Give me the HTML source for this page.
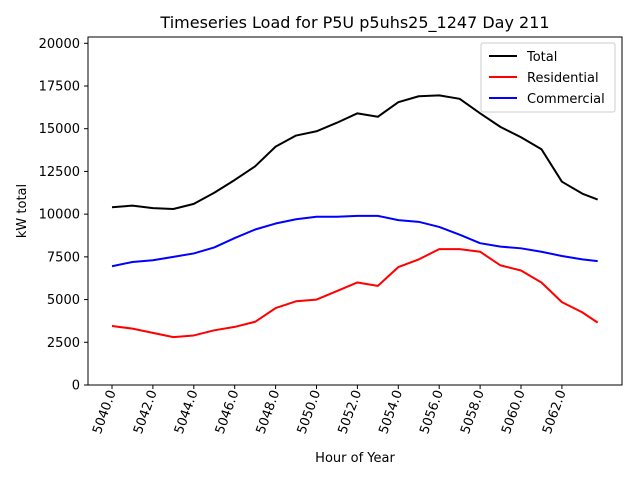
<!DOCTYPE html>
<html><head><meta charset="utf-8"><style>
body{margin:0;background:#fff;font-family:"Liberation Sans","DejaVu Sans",sans-serif}
</style></head><body>
<svg id="chart" width="640" height="480" font-family="DejaVu Sans, Liberation Sans, sans-serif">
<rect width="640" height="480" fill="#fff"/>
<text x="355" y="28" text-anchor="middle" font-size="16">Timeseries Load for P5U p5uhs25_1247  Day 211</text>
<text x="355" y="462" text-anchor="middle" font-size="13">Hour of Year</text>
<text transform="translate(26,211) rotate(-90)" text-anchor="middle" font-size="13">kW total</text>
<g id="grid"></g>
<g id="series"></g>
<rect x="88" y="37" width="534" height="348" fill="none" stroke="#000" stroke-width="1"/>
<g>
<rect x="481" y="43" width="134" height="69" fill="#fff" stroke="#ccc" rx="2"/>
<line x1="489" y1="56" x2="517" y2="56" stroke="#000" stroke-width="2"/>
<text x="527" y="61" font-size="13">Total</text>
<line x1="489" y1="77" x2="517" y2="77" stroke="red" stroke-width="2"/>
<text x="527" y="82" font-size="13">Residential</text>
<line x1="489" y1="98" x2="517" y2="98" stroke="blue" stroke-width="2"/>
<text x="527" y="103" font-size="13">Commercial</text>
</g>
</svg>
<script>
const hours=[5040,5041,5042,5043,5044,5045,5046,5047,5048,5049,5050,5051,5052,5053,5054,5055,5056,5057,5058,5059,5060,5061,5062,5063,5063.75];
const residential=[3450,3300,3050,2800,2900,3200,3400,3700,4500,4900,5000,5500,6000,5800,6900,7350,7950,7950,7800,7000,6700,6000,4850,4250,3650];
const commercial=[6950,7200,7300,7500,7700,8050,8600,9100,9450,9700,9850,9850,9900,9900,9650,9550,9250,8800,8300,8100,8000,7800,7550,7350,7250];
const total=[10400,10500,10350,10300,10600,11250,12000,12800,13950,14600,14850,15350,15900,15700,16550,16900,16950,16750,15900,15100,14500,13800,11900,11200,10850];
const yTicks=[0,2500,5000,7500,10000,12500,15000,17500,20000];
const xTicks=[5040,5042,5044,5046,5048,5050,5052,5054,5056,5058,5060,5062];
const NS="http://www.w3.org/2000/svg";
const X=h=>112+(h-5040)*20.45;
const Y=v=>385-v*0.017086;
const grid=document.getElementById('grid'),ser=document.getElementById('series');
function mk(t,a,p){const e=document.createElementNS(NS,t);for(const k in a)e.setAttribute(k,a[k]);p.appendChild(e);return e;}
yTicks.forEach(v=>{
 const l=mk('line',{x1:84,x2:88,y1:Y(v),y2:Y(v),stroke:'#000'},grid);
 
 
 const t=mk('text',{x:80,y:Y(v)+4.5,'text-anchor':'end','font-size':13},grid);
 
 
 t.textContent=v;
});
xTicks.forEach(h=>{
 const x=X(h);
 const l=mk('line',{x1:x,x2:x,y1:385,y2:389,stroke:'#000'},grid);
 
 
 const t=mk('text',{transform:`translate(${x+4},392) rotate(-70)`,'text-anchor':'end','font-size':13},grid);
 
 
 t.textContent=h.toFixed(1);
});
[[total,'#000','total-line'],[residential,'red','residential-line'],[commercial,'blue','commercial-line']].forEach(([d,c,n])=>{
 const p=mk('polyline',{points:d.map((v,i)=>X(hours[i])+','+Y(v)).join(' '),fill:'none',stroke:c,'stroke-width':2,'stroke-linejoin':'round'},ser);
 
 
});
</script>
</body></html>
